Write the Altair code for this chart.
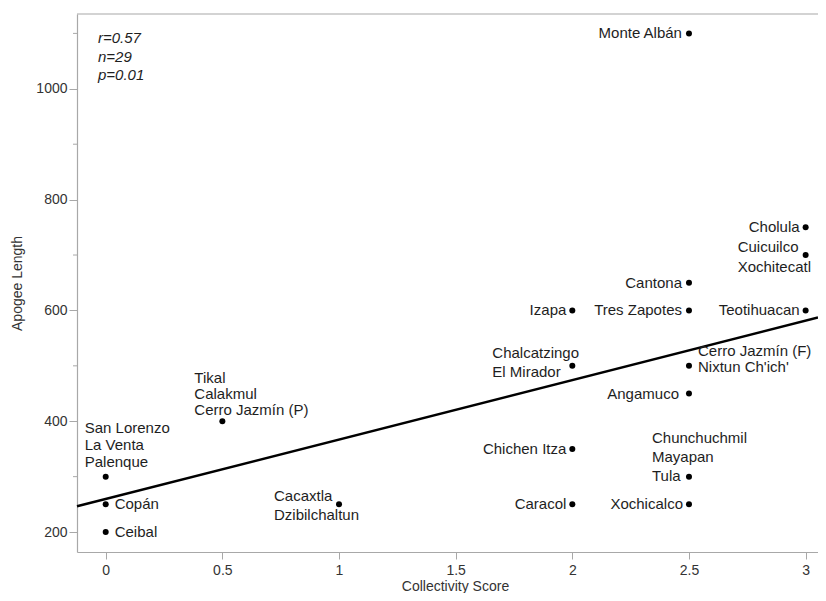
import altair as alt
import pandas as pd

# ---- data ----
sites = [
    "Monte Albán", "Cholula", "Cuicuilco\nXochitecatl", "Cantona", "Izapa",
    "Tres Zapotes", "Teotihuacan", "Chalcatzingo\nEl Mirador",
    "Cerro Jazmín (F)\nNixtun Ch'ich'", "Angamuco",
    "Tikal\nCalakmul\nCerro Jazmín (P)", "San Lorenzo\nLa Venta\nPalenque",
    "Copán", "Ceibal", "Cacaxtla\nDzibilchaltun", "Chichen Itza", "Caracol",
    "Chunchuchmil\nMayapan\nTula", "Xochicalco",
]
# number of sites sharing each plotted point (n = 29 total)
site_counts = [1, 1, 2, 1, 1, 1, 1, 2, 2, 1, 3, 3, 1, 1, 2, 1, 1, 3, 1]
collectivity = [2.5, 3, 3, 2.5, 2, 2.5, 3, 2, 2.5, 2.5, 0.5, 0, 0, 0, 1, 2, 2, 2.5, 2.5]
apogee = [1100, 750, 700, 650, 600, 600, 600, 500, 500, 450, 400, 300, 250, 200, 250, 350, 250, 300, 250]
stats_lines = ["r=0.57", "n=29", "p=0.01"]
x_ticks = [0, 0.5, 1, 1.5, 2, 2.5, 3]
y_ticks = [200, 400, 600, 800, 1000]
y_minor_ticks = [300, 500, 700, 900, 1100]

# ---- layout / style ----
W, H = 741, 538
X_DOM = [-0.123, 3.053]
Y_DOM = [164, 1135]
GRAY = "#a8a8a8"
FONT = "Liberation Sans"
TXT = "#1e1e1e"

points = pd.DataFrame({"site": sites, "x": collectivity, "y": apogee})
# full sample (one row per site) for the regression line
rows = []
for s, c, xv, yv in zip(sites, site_counts, collectivity, apogee):
    rows += [{"x": xv, "y": yv}] * c
sample = pd.DataFrame(rows)

xs = alt.Scale(domain=X_DOM, nice=False, zero=False)
ys = alt.Scale(domain=Y_DOM, nice=False, zero=False)

x_enc = alt.X("x:Q", scale=xs, title="Collectivity Score",
              axis=alt.Axis(values=x_ticks, format="~g", tickSize=7, labelPadding=4,
                            titleX=378, titleY=34, titleBaseline="middle",
                            titleAnchor="middle", titleAlign="center"))
y_enc = alt.Y("y:Q", scale=ys, title="Apogee Length",
              axis=alt.Axis(values=y_ticks, format="d", tickSize=8, labelPadding=2,
                            titleX=-60, titleY=269, titleBaseline="middle",
                            titleAlign="center", titleAngle=-90))

base = alt.Chart(points)

dots = base.mark_point(filled=True, color="black", size=36, opacity=1).encode(x=x_enc, y=y_enc)

reg = alt.Chart(sample).transform_regression(
    "x", "y", extent=X_DOM
).mark_line(color="black", strokeWidth=2.4).encode(
    x=alt.X("x:Q", scale=xs), y=alt.Y("y:Q", scale=ys))

# label placement: (align, dx, dy of first line, lineHeight)
placement = {
    "Monte Albán": ("right", -7, 0, 15),
    "Cholula": ("right", -6, 0, 15),
    "Cuicuilco\nXochitecatl": ("left", -68, -8, 19.5),
    "Cantona": ("right", -7, 0, 15),
    "Izapa": ("right", -6, 0, 15),
    "Tres Zapotes": ("right", -7, 0, 15),
    "Teotihuacan": ("right", -6, 0, 15),
    "Chalcatzingo\nEl Mirador": ("left", -80, -13, 19),
    "Cerro Jazmín (F)\nNixtun Ch'ich'": ("left", 9, -15, 16),
    "Angamuco": ("right", -10, 0, 15),
    "Tikal\nCalakmul\nCerro Jazmín (P)": ("left", -28, -43, 16),
    "San Lorenzo\nLa Venta\nPalenque": ("left", -21, -49, 17),
    "Copán": ("left", 9, 0, 15),
    "Ceibal": ("left", 9, 0, 15),
    "Cacaxtla\nDzibilchaltun": ("left", -65, -8, 19),
    "Chichen Itza": ("right", -6, 0, 15),
    "Caracol": ("right", -6, 0, 15),
    "Chunchuchmil\nMayapan\nTula": ("left", -37, -39, 19),
    "Xochicalco": ("right", -6, 0, 15),
}

label_layers = []
for s in sites:
    al, dx, dy, lh = placement[s]
    label_layers.append(
        base.transform_filter(alt.datum.site == s).mark_text(
            align=al, baseline="middle", dx=dx, dy=dy, lineBreak="\n", lineHeight=lh,
            font=FONT, fontSize=15, color=TXT
        ).encode(x=alt.X("x:Q", scale=xs), y=alt.Y("y:Q", scale=ys), text="site:N")
    )

stats = alt.Chart(pd.DataFrame({"t": ["\n".join(stats_lines)]})).mark_text(
    align="left", baseline="middle", lineBreak="\n", lineHeight=18.5,
    font=FONT, fontSize=15, fontStyle="italic", color=TXT
).encode(x=alt.value(21), y=alt.value(24), text="t:N")

minor = alt.Chart(pd.DataFrame({"m": y_minor_ticks})).mark_rule(
    color=GRAY, strokeWidth=1
).encode(y=alt.Y("m:Q", scale=ys), x=alt.value(-4), x2=alt.value(0))

top_border = alt.Chart(pd.DataFrame({"a": [0]})).mark_rule(
    color=GRAY, strokeWidth=1.2
).encode(y=alt.value(0), x=alt.value(0), x2=alt.value(W))

chart = alt.layer(top_border, minor, reg, dots, *label_layers, stats).properties(
    width=W, height=H,
    autosize=alt.AutoSizeParams(type="none"),
    padding={"left": 69, "top": 6, "right": 0, "bottom": 41},
).configure_view(stroke=None).configure_axis(
    grid=False, domainColor=GRAY, domainWidth=1.2, tickColor=GRAY, tickWidth=1,
    labelColor="#333333", labelFont=FONT, labelFontSize=14,
    titleColor="#333333", titleFont=FONT, titleFontSize=14, titleFontWeight="normal",
)

chart.save("out.html", embed_options={"renderer": "svg", "actions": False})
